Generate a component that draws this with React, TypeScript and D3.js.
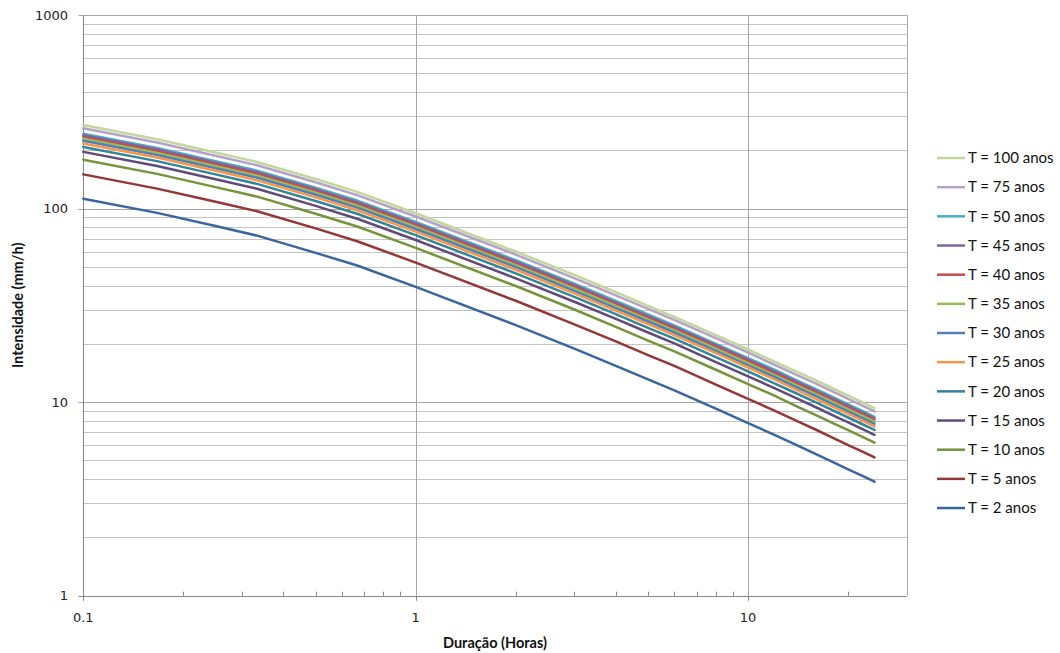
import React from "react";
import * as d3 from "d3";

const durations = [0.1, 0.1667, 0.25, 0.3333, 0.5, 0.6667, 1, 2, 3, 4, 5, 6, 8, 10, 12, 14, 16, 18, 20, 22, 24];

const t100 = [270.0, 228.0, 194.9, 174.0, 142.1, 121.9, 94.6, 60.0, 45.4, 37.0, 31.4, 27.6, 22.2, 18.7, 16.2, 14.38, 12.94, 11.76, 10.8, 10.0, 9.31];
const t75 = [259.9, 219.5, 187.6, 167.5, 136.8, 117.3, 91.0, 57.8, 43.7, 35.6, 30.3, 26.6, 21.4, 18.0, 15.6, 13.84, 12.45, 11.32, 10.4, 9.63, 8.96];
const t50 = [243.6, 205.7, 175.8, 157.0, 128.2, 110.0, 85.3, 54.1, 40.9, 33.3, 28.4, 24.9, 20.0, 16.9, 14.7, 12.97, 11.67, 10.61, 9.74, 9.03, 8.4];
const t45 = [239.1, 201.9, 172.6, 154.1, 125.8, 108.0, 83.7, 53.1, 40.2, 32.7, 27.8, 24.4, 19.7, 16.6, 14.4, 12.73, 11.45, 10.41, 9.56, 8.86, 8.25];
const t40 = [234.6, 198.1, 169.3, 151.2, 123.4, 105.9, 82.1, 52.1, 39.4, 32.1, 27.3, 24.0, 19.3, 16.3, 14.1, 12.49, 11.24, 10.22, 9.38, 8.69, 8.09];
const t35 = [229.5, 193.8, 165.6, 147.9, 120.8, 103.6, 80.4, 51.0, 38.6, 31.4, 26.7, 23.5, 18.9, 15.9, 13.8, 12.22, 11.0, 10.0, 9.18, 8.51, 7.92];
const t30 = [223.9, 189.1, 161.6, 144.3, 117.8, 101.1, 78.4, 49.8, 37.6, 30.6, 26.1, 22.9, 18.4, 15.5, 13.5, 11.92, 10.73, 9.75, 8.96, 8.3, 7.72];
const t25 = [217.1, 183.4, 156.7, 139.9, 114.3, 98.0, 76.0, 48.3, 36.5, 29.7, 25.3, 22.2, 17.9, 15.1, 13.1, 11.56, 10.4, 9.46, 8.69, 8.05, 7.49];
const t20 = [208.1, 175.8, 150.2, 134.1, 109.5, 94.0, 72.9, 46.3, 35.0, 28.5, 24.2, 21.3, 17.1, 14.4, 12.5, 11.08, 9.97, 9.07, 8.33, 7.71, 7.18];
const t15 = [196.3, 165.8, 141.7, 126.5, 103.3, 88.6, 68.8, 43.6, 33.0, 26.9, 22.9, 20.1, 16.1, 13.6, 11.8, 10.45, 9.41, 8.55, 7.85, 7.28, 6.77];
const t10 = [178.9, 151.1, 129.1, 115.3, 94.1, 80.8, 62.6, 39.8, 30.1, 24.5, 20.8, 18.3, 14.7, 12.4, 10.8, 9.52, 8.57, 7.79, 7.16, 6.63, 6.17];
const t5 = [150.2, 126.8, 108.4, 96.8, 79.0, 67.8, 52.6, 33.4, 25.2, 20.6, 17.5, 15.4, 12.3, 10.4, 9.04, 8.0, 7.2, 6.54, 6.0, 5.57, 5.18];
const t2 = [112.5, 95.0, 81.2, 72.5, 59.0, 50.8, 39.4, 25.0, 18.9, 15.4, 13.1, 11.5, 9.25, 7.8, 6.77, 5.99, 5.39, 4.9, 4.5, 4.17, 3.88];

const seriesNames = ["T = 100 anos", "T = 75 anos", "T = 50 anos", "T = 45 anos", "T = 40 anos", "T = 35 anos", "T = 30 anos", "T = 25 anos", "T = 20 anos", "T = 15 anos", "T = 10 anos", "T = 5 anos", "T = 2 anos"];
const seriesValues = [t100, t75, t50, t45, t40, t35, t30, t25, t20, t15, t10, t5, t2];
const seriesColors = ["#C3D69B", "#B3A2C7", "#4BACC6", "#8064A2", "#C0504D", "#9BBB59", "#4F81BD", "#F79646", "#31859C", "#604A7B", "#77933C", "#953735", "#3A66A0"];

const xTickLabels = [0.1, 1, 10];
const yTickLabels = [1, 10, 100, 1000];

export default function App() {
  const W = 1060, H = 653;
  const left = 83.3, right = 906.7, top = 15, bottom = 595.7;
  const x = d3.scaleLog().domain([0.1, 30]).range([left, right]);
  const y = d3.scaleLog().domain([1, 1000]).range([bottom, top]);

  const line = d3.line<[number, number]>().x((d) => x(d[0])).y((d) => y(d[1]));

  const yGrid: number[] = [];
  [1, 10, 100].forEach((dec) => {
    for (let k = 2; k <= 9; k++) yGrid.push(dec * k);
  });
  const xMinor: number[] = [];
  [0.1, 1, 10].forEach((dec) => {
    for (let k = 2; k <= 9; k++) {
      const v = dec * k;
      if (v < 30) xMinor.push(v);
    }
  });

  const px = (v: number) => Math.round(v) + 0.5;
  const tickFont = "'DejaVu Sans', Verdana, sans-serif";
  const labelFont = "Lato, 'Open Sans', sans-serif";

  return (
    <svg width={W} height={H} style={{ position: "absolute", left: 0, top: 0, background: "#fff" }}>
      <rect x={0} y={0} width={W} height={H} fill="#fff" />
      {yGrid.map((v) => (
        <line key={"hg" + v} x1={left} x2={right} y1={px(y(v))} y2={px(y(v))} stroke="#c4c4c4" strokeWidth={1} />
      ))}
      {yTickLabels.map((v) => (
        <line key={"hm" + v} x1={left - 5} x2={right} y1={px(y(v))} y2={px(y(v))} stroke={v === 1 ? "#868686" : "#a6a6a6"} strokeWidth={1} />
      ))}
      {[1, 10].map((v) => (
        <line key={"vg" + v} x1={px(x(v))} x2={px(x(v))} y1={top} y2={bottom} stroke="#a6a6a6" strokeWidth={1} />
      ))}
      <line x1={px(right)} x2={px(right)} y1={top} y2={bottom} stroke="#a6a6a6" strokeWidth={1} />
      <line x1={px(left)} x2={px(left)} y1={top} y2={bottom + 5} stroke="#868686" strokeWidth={1} />
      {xTickLabels.map((v) => (
        <line key={"xt" + v} x1={px(x(v))} x2={px(x(v))} y1={bottom} y2={bottom + 5} stroke="#868686" strokeWidth={1} />
      ))}
      {xMinor.map((v) => (
        <line key={"xm" + v} x1={px(x(v))} x2={px(x(v))} y1={bottom - 4} y2={bottom} stroke="#868686" strokeWidth={1} />
      ))}
      {seriesValues.map((vals, i) => (
        <path
          key={"s" + i}
          d={line(durations.map((t, j) => [t, vals[j]] as [number, number])) || ""}
          fill="none"
          stroke={seriesColors[i]}
          strokeWidth={2.5}
          strokeLinejoin="round"
          strokeLinecap="round"
        />
      ))}
      {yTickLabels.map((v) => (
        <text key={"yl" + v} x={68} y={y(v)} dy="0.35em" textAnchor="end" fontFamily={tickFont} fontSize={13} fill="#222">
          {String(v)}
        </text>
      ))}
      {xTickLabels.map((v) => (
        <text key={"xl" + v} x={x(v)} y={622} textAnchor="middle" fontFamily={tickFont} fontSize={13} fill="#222">
          {String(v)}
        </text>
      ))}
      <text x={495} y={648} textAnchor="middle" fontFamily={labelFont} fontWeight="bold" fontSize={14.5} fill="#111">
        Duração (Horas)
      </text>
      <text
        transform={`translate(23, ${(top + bottom) / 2}) rotate(-90)`}
        textAnchor="middle"
        fontFamily={labelFont}
        fontWeight="bold"
        fontSize={14.5}
        fill="#111"
      >
        Intensidade (mm/h)
      </text>
      {seriesNames.map((name, i) => {
        const ly = 158 + i * 29.17;
        return (
          <g key={"lg" + i}>
            <line x1={937} x2={965} y1={ly} y2={ly} stroke={seriesColors[i]} strokeWidth={2.5} />
            <text x={968} y={ly} dy="0.35em" fontFamily={labelFont} fontSize={15} fill="#111">
              {name}
            </text>
          </g>
        );
      })}
    </svg>
  );
}
